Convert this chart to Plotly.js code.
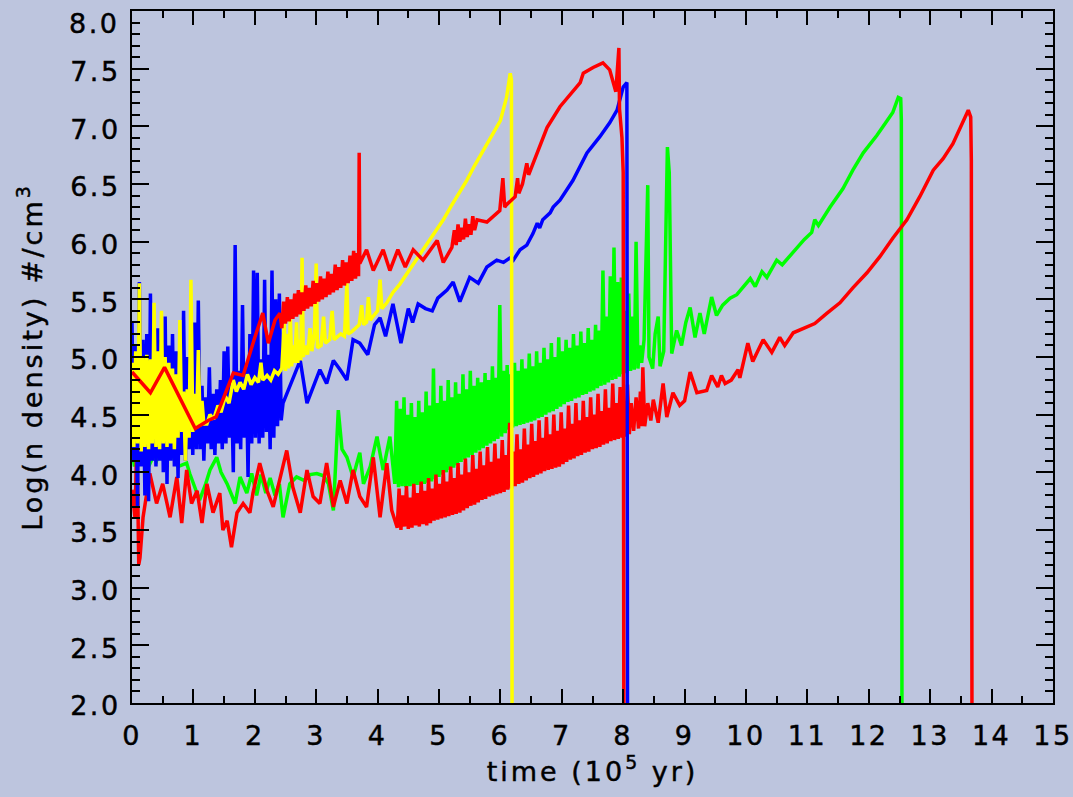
<!DOCTYPE html>
<html>
<head>
<meta charset="utf-8">
<script src="https://cdn.plot.ly/plotly-3.0.1.min.js"></script>
<style>
  html, body { margin: 0; padding: 0; background: #bdc5de; }
  #chart { width: 1073px; height: 797px; }
  .xtick text, .ytick text, .annotation-text { letter-spacing: 2.5px; stroke: #000; stroke-width: 0.45px; }
  .g-xtitle text, .g-ytitle text { letter-spacing: 3px; stroke: #000; stroke-width: 0.45px; }
</style>
</head>
<body>
<div id="chart"></div>
<script>
// ---------------- data ----------------
const xTicks = [0,1,2,3,4,5,6,7,8,9,10,11,12,13,14,15];
const yTicks = [2.0,2.5,3.0,3.5,4.0,4.5,5.0,5.5,6.0,6.5,7.0,7.5,8.0];

// green run
const greenX = [0.00,0.04,0.08,0.13,0.20,0.27,0.34,0.40,0.46,0.55,0.65,0.75,0.89,0.94,1.10,1.20,1.27,1.38,1.45,1.55,1.68,1.76,1.87,1.95,2.03,2.10,2.18,2.25,2.33,2.40,2.46,2.57,2.68,2.80,2.90,3.01,3.12,3.20,3.28,3.36,3.42,3.50,3.60,3.71,3.77,3.88,3.99,4.09,4.20,
  4.28,4.31,4.34,4.37,4.40,4.43,4.46,4.49,4.52,4.55,4.58,4.61,4.64,4.67,4.70,4.73,4.76,4.79,4.82,4.85,4.88,4.91,4.94,4.97,5.00,5.03,5.06,5.09,5.12,5.15,5.18,5.21,5.24,5.27,5.30,5.33,5.36,5.39,5.42,5.45,5.48,5.51,5.54,5.57,5.60,5.63,5.66,5.69,5.72,5.75,5.78,5.81,5.84,5.87,5.90,5.93,5.96,5.99,
  6.02,6.05,6.08,6.11,6.14,6.17,6.20,6.23,6.26,6.29,6.32,6.35,6.38,6.41,6.44,6.47,6.50,6.53,6.56,6.59,6.62,6.65,6.68,6.71,6.74,6.77,6.80,6.83,6.86,6.89,6.92,6.95,6.98,7.01,7.04,7.07,7.10,7.13,7.16,7.19,7.22,7.25,7.28,7.31,7.34,7.37,7.40,7.43,7.46,7.49,7.52,7.55,7.58,7.61,7.64,7.67,7.70,7.73,7.76,7.79,7.82,7.85,7.88,7.91,7.94,7.97,8.00,8.03,8.06,8.09,8.12,8.15,8.18,8.21,8.24,8.27,
  8.30,8.34,8.40,8.42,8.48,8.52,8.57,8.60,8.66,8.72,8.75,8.79,8.87,8.95,9.02,9.09,9.17,9.25,9.32,9.44,9.52,9.62,9.74,9.85,9.95,10.07,10.15,10.26,10.34,10.50,10.59,10.77,10.95,11.07,11.12,11.18,11.37,11.58,11.74,11.91,12.13,12.30,12.39,12.48,12.52,12.53,12.54];
const greenY = [4.20,4.05,4.22,4.10,4.15,4.05,4.13,4.10,4.19,4.12,4.15,4.05,4.08,3.99,3.76,3.90,4.02,4.13,4.00,3.90,3.73,3.96,3.82,3.99,3.80,3.98,3.82,3.95,3.80,3.90,3.61,3.90,3.96,3.93,3.98,3.99,3.97,3.90,3.67,4.54,4.20,4.13,3.96,4.17,3.90,4.05,4.31,4.02,4.31,
  3.90,4.62,3.87,4.55,3.88,4.65,3.87,4.50,3.88,4.60,3.88,4.48,3.89,4.62,3.89,4.52,3.90,4.70,3.91,4.58,3.92,4.90,3.94,4.60,3.96,4.75,3.98,4.62,4.00,4.80,4.02,4.65,4.04,4.78,4.06,4.68,4.09,4.85,4.11,4.72,4.13,4.88,4.15,4.75,4.17,4.82,4.19,4.78,4.21,4.86,4.23,4.80,4.25,4.92,4.27,4.82,4.29,5.45,
  4.31,4.88,4.34,4.93,4.37,4.85,4.39,4.95,4.40,4.88,4.41,4.98,4.42,4.90,4.43,5.03,4.44,4.92,4.45,5.05,4.47,4.95,4.48,5.08,4.50,4.98,4.52,5.12,4.53,5.00,4.55,5.17,4.57,5.05,4.59,5.15,4.61,5.08,4.62,5.20,4.64,5.10,4.65,5.22,4.67,5.12,4.68,5.25,4.70,5.15,4.71,5.28,4.73,5.23,4.75,5.75,4.76,5.35,4.78,5.70,4.80,5.95,4.81,5.65,4.83,5.69,4.85,5.40,4.86,5.55,4.88,5.35,4.89,6.00,4.90,5.10,
  4.95,5.15,6.49,5.00,4.90,5.20,5.35,4.92,5.05,6.82,6.60,5.03,5.23,5.10,5.30,5.43,5.17,5.38,5.20,5.52,5.36,5.45,5.51,5.54,5.60,5.68,5.61,5.74,5.69,5.84,5.80,5.91,6.02,6.08,6.19,6.14,6.30,6.46,6.62,6.77,6.92,7.05,7.12,7.25,7.24,7.05,2.00];

// lower red run
const redBX = [0.00,0.05,0.08,0.11,0.13,0.18,0.29,0.40,0.50,0.62,0.73,0.81,0.89,0.97,1.06,1.14,1.22,1.32,1.43,1.48,1.55,1.62,1.71,1.81,1.92,1.97,2.08,2.20,2.30,2.41,2.52,2.62,2.74,2.85,2.95,3.06,3.17,3.28,3.39,3.50,3.60,3.71,3.82,3.93,4.04,4.15,4.23,
  4.32,4.35,4.38,4.41,4.44,4.47,4.50,4.53,4.56,4.59,4.62,4.65,4.68,4.71,4.74,4.77,4.80,4.83,4.86,4.89,4.92,4.95,4.98,5.01,5.04,5.07,5.10,5.13,5.16,5.19,5.22,5.25,5.28,5.31,5.34,5.37,5.40,5.43,5.46,5.49,5.52,5.55,5.58,5.61,5.64,5.67,5.70,5.73,5.76,5.79,5.82,5.85,5.88,5.91,5.94,5.97,
  6.00,6.03,6.06,6.09,6.12,6.15,6.18,6.21,6.24,6.27,6.30,6.33,6.36,6.39,6.42,6.45,6.48,6.51,6.54,6.57,6.60,6.63,6.66,6.69,6.72,6.75,6.78,6.81,6.84,6.87,6.90,6.93,6.96,6.99,7.02,7.05,7.08,7.11,7.14,7.17,7.20,7.23,7.26,7.29,7.32,7.35,7.38,7.41,7.44,7.47,7.50,7.53,7.56,7.59,7.62,7.65,7.68,7.71,7.74,7.77,7.80,7.83,7.86,7.89,7.92,7.95,7.98,8.01,8.04,8.07,8.10,8.13,
  8.17,8.21,8.25,8.28,8.30,8.32,8.35,8.40,8.45,8.49,8.57,8.65,8.71,8.81,8.92,9.00,9.09,9.20,9.36,9.44,9.54,9.60,9.66,9.76,9.87,9.90,10.03,10.11,10.28,10.42,10.55,10.63,10.77,10.93,11.12,11.32,11.53,11.74,11.97,12.18,12.39,12.62,12.83,13.05,13.21,13.37,13.52,13.62,13.66,13.67,13.68];
const redBY = [3.85,3.60,4.36,3.20,3.26,3.61,3.99,3.73,3.90,3.61,3.96,3.56,4.02,3.73,3.84,3.56,3.90,3.65,3.82,3.50,3.58,3.35,3.65,3.73,3.65,3.82,4.08,3.84,3.70,3.96,4.19,3.87,3.65,4.02,3.79,3.73,4.08,3.70,3.93,3.73,4.02,3.79,3.70,4.13,3.61,4.08,3.67,
  3.52,3.86,3.50,3.80,3.53,3.88,3.51,3.78,3.52,3.90,3.54,3.82,3.53,3.92,3.55,3.84,3.54,3.95,3.56,3.86,3.58,3.98,3.59,3.90,3.60,4.02,3.61,3.92,3.62,4.05,3.63,3.95,3.64,4.08,3.65,3.98,3.67,4.12,3.69,4.00,3.71,4.15,3.72,4.03,3.74,4.18,3.76,4.06,3.77,4.22,3.79,4.09,3.80,4.25,3.81,4.12,
  3.82,4.28,3.83,4.15,3.85,4.43,3.86,4.18,3.88,4.33,3.90,4.20,3.91,4.38,3.93,4.24,3.95,4.42,3.96,4.27,3.98,4.45,3.99,4.30,4.01,4.48,4.02,4.33,4.03,4.50,4.04,4.36,4.05,4.52,4.07,4.38,4.09,4.58,4.11,4.42,4.12,4.60,4.14,4.45,4.15,4.62,4.17,4.48,4.18,4.65,4.20,4.50,4.21,4.68,4.22,4.53,4.24,4.72,4.25,4.56,4.27,4.77,4.28,4.60,4.29,4.74,4.30,4.62,4.31,4.76,4.33,4.60,
  4.36,4.65,4.38,4.70,4.40,4.91,4.40,4.60,4.45,4.63,4.43,4.77,4.48,4.69,4.58,4.62,4.87,4.69,4.71,4.84,4.74,4.84,4.77,4.80,4.89,4.82,5.12,4.96,5.15,5.04,5.17,5.10,5.21,5.25,5.29,5.38,5.47,5.60,5.73,5.87,6.03,6.19,6.39,6.62,6.72,6.85,7.03,7.14,7.08,6.70,2.00];

// blue run
const blueX = [0.00,0.03,0.06,0.09,0.12,0.15,0.18,0.21,0.24,0.27,0.30,0.33,0.36,0.39,0.42,0.45,0.48,0.51,0.54,0.57,0.60,0.63,0.66,0.69,0.72,0.75,0.78,0.81,0.84,0.87,0.90,0.93,0.96,0.99,1.02,1.05,1.08,1.11,1.14,1.17,1.20,
  1.23,1.26,1.29,1.32,1.35,1.38,1.41,1.44,1.47,1.50,1.53,1.56,1.59,1.62,1.65,1.68,1.71,1.74,1.77,1.80,1.83,1.86,1.89,1.92,1.95,1.98,2.01,2.04,2.07,2.10,2.13,2.16,2.19,2.22,2.25,2.28,2.31,2.34,2.37,2.40,2.43,
  2.46,2.57,2.74,2.85,2.95,3.06,3.17,3.28,3.39,3.50,3.60,3.71,3.84,3.95,4.04,4.13,4.25,4.38,4.50,4.57,4.66,4.78,4.89,4.98,5.13,5.23,5.34,5.50,5.64,5.78,5.94,6.05,6.16,6.21,6.32,6.43,6.53,6.60,6.64,6.69,6.81,6.86,6.97,7.18,7.41,7.62,7.78,7.90,8.00,8.06,8.07];
const blueY = [5.30,4.10,5.10,3.70,5.65,4.05,5.15,3.80,5.20,3.75,5.55,4.10,5.10,4.05,5.25,4.10,5.15,4.00,5.35,3.90,5.10,4.10,5.20,4.05,5.05,3.95,5.10,4.15,5.40,4.10,5.00,4.20,5.05,4.15,5.30,4.20,5.49,4.20,4.75,4.10,4.65,
  4.25,4.91,4.20,4.68,4.15,4.72,4.25,4.80,4.20,5.05,4.25,5.09,4.30,4.78,4.00,5.97,4.25,4.88,4.20,5.45,4.30,4.92,3.96,5.20,4.25,5.75,4.30,5.73,4.25,4.98,4.30,5.67,4.35,5.02,4.20,5.75,4.30,5.50,4.40,5.55,4.45,
  4.60,4.74,4.97,4.60,4.74,4.89,4.77,4.97,4.89,4.80,5.15,5.12,5.02,5.28,5.34,5.18,5.46,5.12,5.42,5.30,5.46,5.42,5.40,5.51,5.58,5.65,5.48,5.69,5.64,5.78,5.84,5.82,5.86,5.84,5.93,5.97,6.07,6.16,6.12,6.19,6.25,6.30,6.36,6.53,6.77,6.91,7.03,7.14,7.34,7.38,2.00];

// yellow run
const yellowX = [0.00,0.03,0.06,0.09,0.12,0.15,0.18,0.21,0.24,0.27,0.30,0.33,0.36,0.39,0.42,0.45,0.48,0.51,0.54,0.57,0.60,0.63,0.66,0.69,0.72,0.75,0.78,0.81,0.84,0.87,0.90,0.93,0.96,0.99,1.02,1.05,1.08,1.11,1.14,1.17,
  1.22,1.27,1.33,1.40,1.45,1.52,1.58,1.65,1.70,1.76,1.82,1.88,1.94,2.00,2.06,2.10,2.13,2.20,2.26,2.32,2.38,2.44,
  2.48,2.50,2.53,2.55,2.58,2.60,2.63,2.65,2.68,2.70,2.73,2.75,2.77,2.79,2.83,2.86,2.90,2.93,2.97,3.00,3.02,3.08,3.12,3.15,3.22,3.26,3.29,3.35,3.40,3.46,3.50,3.52,3.58,3.64,3.70,3.74,3.77,3.82,3.85,3.88,3.94,4.00,4.04,4.07,4.15,4.25,4.36,4.50,4.64,4.80,4.95,5.07,5.20,5.33,5.45,5.58,5.72,5.85,6.00,6.10,6.16,6.18,6.19];
const yellowY = [4.95,4.22,5.05,4.25,5.64,4.18,5.00,4.22,5.02,4.20,4.98,4.25,5.47,4.22,5.05,4.20,5.40,4.25,5.00,4.22,4.95,4.25,4.90,4.20,4.85,4.30,5.32,4.35,4.70,4.10,4.72,4.30,5.67,4.35,4.68,4.38,5.06,4.40,4.62,4.42,
  4.42,4.50,4.46,4.58,4.52,4.66,4.60,4.80,4.70,4.78,4.72,4.85,4.76,4.82,4.78,4.95,4.80,4.84,4.80,4.88,4.85,4.90,
  5.29,4.88,5.20,4.90,5.35,4.92,5.10,4.95,5.30,4.95,5.15,4.97,5.86,5.00,5.10,5.02,5.25,5.05,5.20,5.81,5.08,5.10,5.35,5.12,5.15,5.40,5.15,5.18,5.20,5.18,5.64,5.20,5.22,5.25,5.28,5.45,5.28,5.30,5.52,5.32,5.36,5.40,5.67,5.42,5.47,5.56,5.63,5.74,5.84,5.97,6.09,6.19,6.31,6.42,6.53,6.66,6.79,6.92,7.05,7.25,7.46,7.40,2.00];

// upper red run
const redAX = [0.00,0.30,0.53,0.83,1.03,1.24,1.37,1.65,1.81,2.00,2.13,2.22,2.33,2.41,
  2.44,2.47,2.50,2.53,2.56,2.59,2.62,2.65,2.68,2.71,2.74,2.77,2.80,2.83,2.86,2.89,2.92,2.95,2.98,3.01,3.04,3.07,3.10,3.13,3.16,3.19,3.22,3.25,3.28,3.31,3.34,3.37,3.40,3.43,3.46,3.49,3.52,3.55,3.58,3.61,3.64,3.67,3.69,3.70,3.71,
  3.82,3.93,4.09,4.20,4.33,4.45,4.58,4.74,4.97,5.07,5.21,5.25,5.28,5.31,5.34,5.37,5.40,5.43,5.46,5.49,5.52,5.55,5.58,5.62,5.78,5.99,6.04,6.07,6.10,6.24,6.28,6.30,6.36,6.43,6.46,6.53,6.76,6.97,7.18,7.30,7.35,7.51,7.67,7.78,7.88,7.93,7.94,7.98,8.00,8.01];
const redAY = [4.87,4.69,4.91,4.60,4.38,4.45,4.48,4.86,4.84,5.17,5.38,5.12,5.32,5.38,
  5.25,5.48,5.29,5.52,5.31,5.50,5.33,5.55,5.35,5.58,5.37,5.56,5.40,5.62,5.42,5.60,5.44,5.66,5.46,5.64,5.48,5.70,5.50,5.68,5.52,5.74,5.54,5.72,5.56,5.80,5.58,5.78,5.60,5.84,5.62,5.82,5.64,5.88,5.66,5.92,5.68,5.90,5.70,6.77,5.81,
  5.93,5.75,5.93,5.75,5.93,5.78,5.93,5.84,6.01,5.82,5.95,6.10,5.97,6.15,6.00,6.12,6.02,6.20,6.04,6.15,6.06,6.22,6.10,6.19,6.17,6.27,6.55,6.30,6.32,6.39,6.55,6.42,6.50,6.68,6.58,6.68,6.99,7.17,7.31,7.38,7.46,7.51,7.55,7.49,7.30,7.68,7.15,6.90,6.60,2.00];

// ---------------- chart ----------------
const lineW = 3.5;
function run(x, y, color) {
  return { x: x, y: y, type: 'scatter', mode: 'lines',
           line: { color: color, width: lineW }, hoverinfo: 'skip', showlegend: false };
}
const traces = [
  run(greenX, greenY, '#00ff00'),
  run(redBX, redBY, '#ff0000'),
  run(blueX, blueY, '#0000ff'),
  run(yellowX, yellowY, '#ffff00'),
  run(redAX, redAY, '#ff0000')
];

const bg = '#bdc5de';
const fontFam = 'DejaVu Sans, sans-serif';
const tickFont = { family: fontFam, size: 27, color: '#000000' };
const yTop = yTicks[yTicks.length - 1];
// the top label sits a little lower in the original, so it is drawn as an annotation
const yTickText = yTicks.map(v => (v === yTop ? '' : v.toFixed(1)));
const layout = {
  width: 1073, height: 797,
  paper_bgcolor: bg, plot_bgcolor: bg,
  margin: { l: 132, r: 20, t: 11, b: 94, pad: 0 },
  showlegend: false,
  xaxis: {
    range: [0, 15], tickmode: 'array', tickvals: xTicks, ticktext: xTicks.map(String),
    ticks: 'inside', ticklen: 14, tickwidth: 2, tickcolor: '#000',
    minor: { ticks: 'inside', dtick: 0.5, ticklen: 7, tickwidth: 2, tickcolor: '#000', showgrid: false },
    showline: true, linecolor: '#000', linewidth: 2, mirror: 'ticks',
    showgrid: false, zeroline: false, ticklabelstandoff: 8, ticklabeloverflow: 'allow',
    tickfont: tickFont,
    title: { text: 'time (10<sup>5</sup> yr)', font: { family: fontFam, size: 27, color: '#000' }, standoff: 11 }
  },
  yaxis: {
    range: [2, 8], tickmode: 'array', tickvals: yTicks, ticktext: yTickText,
    ticks: 'inside', ticklen: 17, tickwidth: 2, tickcolor: '#000',
    minor: { ticks: 'inside', dtick: 0.1, ticklen: 8, tickwidth: 2, tickcolor: '#000', showgrid: false },
    showline: true, linecolor: '#000', linewidth: 2, mirror: 'ticks',
    showgrid: false, zeroline: false, ticklabelstandoff: 4, ticklabeloverflow: 'allow',
    ticklabelshift: 3,
    tickfont: tickFont,
    title: { text: 'Log(n density) #/cm<sup>3</sup>', font: { family: fontFam, size: 27, color: '#000' }, standoff: 20 }
  },
  annotations: [{
    text: yTop.toFixed(1), xref: 'paper', yref: 'y', x: 0, y: yTop,
    xanchor: 'right', yanchor: 'middle', xshift: -11, yshift: -12,
    showarrow: false, font: tickFont
  }]
};
Plotly.newPlot('chart', traces, layout, { displayModeBar: false, staticPlot: true });
</script>
</body>
</html>
